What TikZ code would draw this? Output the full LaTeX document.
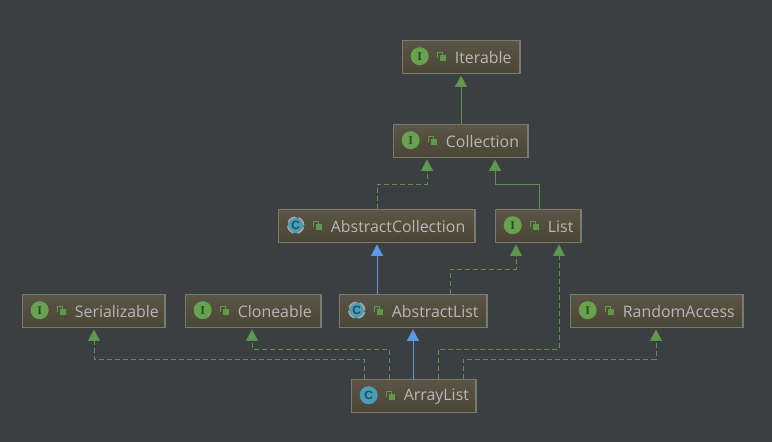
\documentclass[tikz,border=0pt]{standalone}
\usepackage{fontspec}
\setmainfont{Open Sans}
\newfontfamily\iconserif{Liberation Serif}
\newfontfamily\iconsans{Liberation Sans}
\usetikzlibrary{arrows.meta,shadings}
\definecolor{bgc}{HTML}{3C3F41}
\definecolor{boxtop}{HTML}{5A5546}
\definecolor{boxbot}{HTML}{4B4536}
\definecolor{boxline}{HTML}{7A7A6E}
\definecolor{labelc}{HTML}{B8B8B8}
\definecolor{greenline}{HTML}{5E9150}
\definecolor{greenhead}{HTML}{5F9A50}
\definecolor{blueline}{HTML}{5A98E8}
\definecolor{iface}{HTML}{69A24F}
\definecolor{ifacetxt}{HTML}{2F4A22}
\definecolor{classc}{HTML}{4A9DB5}
\definecolor{classtxt}{HTML}{1C4E68}
\definecolor{lockc}{HTML}{5E9A45}
\tikzset{
  x=1pt,y=-1pt,
  classbox/.style={draw=boxline,line width=1.2pt,top color=boxtop,bottom color=boxbot,inner sep=0pt,anchor=north west,minimum height=33pt},
  boxlabel/.style={text=labelc,font=\fontsize{15.9}{18}\selectfont,anchor=west,inner sep=0pt},
  iconI/.style={circle,fill=iface,minimum size=18pt,inner sep=0pt,text=ifacetxt,font=\iconserif\bfseries\fontsize{12}{12}\selectfont},
  iconC/.style={circle,fill=classc,minimum size=18pt,inner sep=0pt,text=classtxt,font=\iconsans\bfseries\fontsize{12}{12}\selectfont},
  iconA/.style={circle,fill=classc,draw=gray!70,line width=1.5pt,dash pattern=on 9pt off 4pt,minimum size=16pt,inner sep=0pt,text=classtxt,font=\iconsans\bfseries\fontsize{12}{12}\selectfont},
  solidgreen/.style={draw=greenline,line width=1pt,-{Triangle[length=11.5pt,width=12pt,fill=greenhead]},shorten >=1.5pt},
  dashgreen/.style={solidgreen,dash pattern=on 5pt off 3pt},
  solidblue/.style={draw=blueline,line width=1pt,-{Triangle[length=11.5pt,width=12pt,fill=blueline]},shorten >=1.5pt},
}
% name, x1, x2, y1, icon style, icon letter, label
\newcommand{\umlbox}[7]{%
  \node[classbox,minimum width=#3pt-#2pt] (#1) at (#2,#4) {};
  \node[#5] (#1i) at (#2+18,#4+16.5) {#6};
  \draw[lockc,line width=.8pt] (#2+35.5,#4+18) -- (#2+35.5,#4+12.5) -- (#2+40.5,#4+12.5) -- (#2+40.5,#4+15);
  \fill[lockc] (#2+38,#4+15.5) rectangle (#2+44.5,#4+21.5);
  \node[boxlabel] (#1t) at (#2+53,#4+18) {#7};
}
\begin{document}
\begin{tikzpicture}
\useasboundingbox[fill=bgc] (0,0) rectangle (772,442);
\umlbox{iter}{401.7}{519.3}{39.7}{iconI}{I}{Iterable}
\umlbox{coll}{392.7}{527.3}{123.7}{iconI}{I}{Collection}
\umlbox{acoll}{277.7}{474.3}{208.7}{iconA}{C}{AbstractCollection}
\umlbox{list}{494.7}{580.3}{208.7}{iconI}{I}{List}
\umlbox{ser}{21.7}{164.3}{293.7}{iconI}{I}{Serializable}
\umlbox{clon}{184.7}{320.3}{293.7}{iconI}{I}{Cloneable}
\umlbox{alist}{338.7}{486.3}{293.7}{iconA}{C}{AbstractList}
\umlbox{rand}{569.7}{742.3}{293.7}{iconI}{I}{RandomAccess}
\umlbox{arr}{350.7}{475.3}{378.7}{iconC}{C}{ArrayList}
\coordinate (xa) at (461,0);
\coordinate (xb) at (377,184);
\coordinate (xc) at (427,0);
\coordinate (xd) at (539,184);
\coordinate (xe) at (495,0);
\coordinate (xf) at (450,269);
\coordinate (xg) at (516,0);
\coordinate (xh) at (438,349);
\coordinate (xi) at (559,0);
\coordinate (xj) at (463,359);
\coordinate (xk) at (656,0);
\coordinate (xl) at (389,349);
\coordinate (xm) at (252,0);
\coordinate (xn) at (364,359);
\coordinate (xo) at (94,0);
\coordinate (xp) at (413,0);
\draw[solidgreen] (coll.north -| xa) -- (iter.south -| xa);
\draw[dashgreen] (acoll.north -| xb) -- (xb) -| (coll.south -| xc);
\draw[solidgreen] (list.north -| xd) -- (xd) -| (coll.south -| xe);
\draw[solidblue] (alist.north -| xb) -- (acoll.south -| xb);
\draw[dashgreen] (alist.north -| xf) -- (xf) -| (list.south -| xg);
\draw[dashgreen] (arr.north -| xh) -- (xh) -| (list.south -| xi);
\draw[dashgreen] (arr.north -| xj) -- (xj) -| (rand.south -| xk);
\draw[dashgreen] (arr.north -| xl) -- (xl) -| (clon.south -| xm);
\draw[dashgreen] (arr.north -| xn) -- (xn) -| (ser.south -| xo);
\draw[solidblue] (arr.north -| xp) -- (alist.south -| xp);
\end{tikzpicture}
\end{document}
